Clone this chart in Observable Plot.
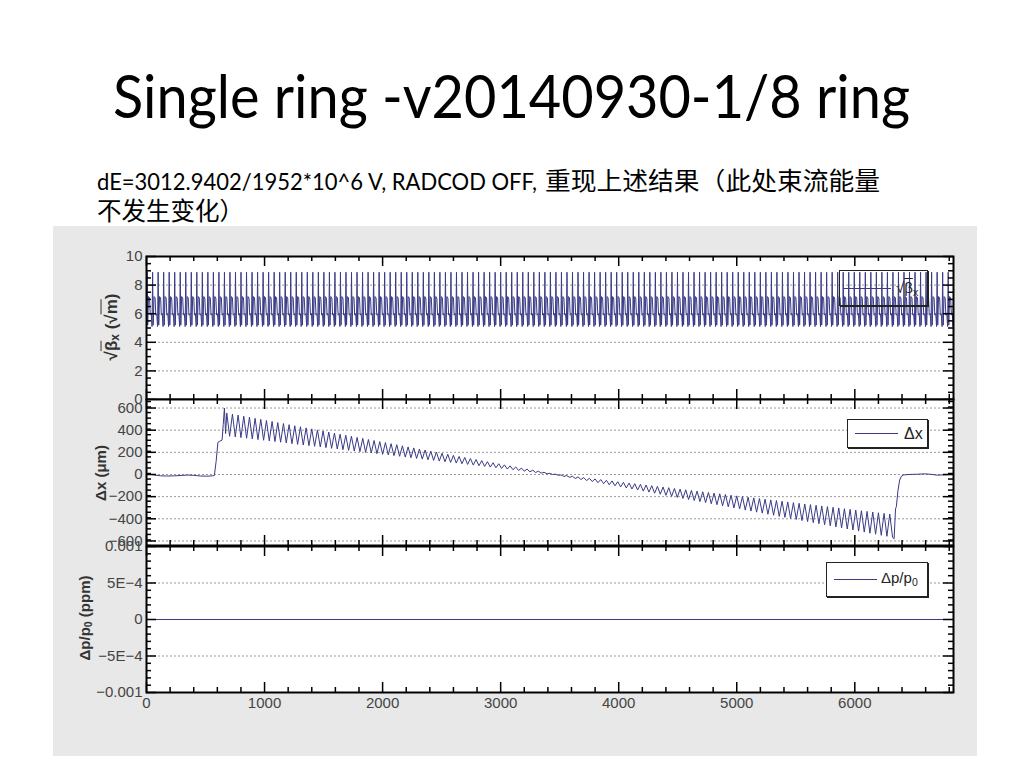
<!DOCTYPE html>
<html><head><meta charset="utf-8">
<script src="https://cdn.jsdelivr.net/npm/d3@7"></script>
<script src="https://cdn.jsdelivr.net/npm/@observablehq/plot@0.6"></script>
<style>
html,body{margin:0;padding:0;background:#fff;}
#page{position:relative;width:1024px;height:768px;overflow:hidden;background:#fff;}
#panelbg{position:absolute;left:53px;top:226px;width:924px;height:530px;background:#e8e8e8;}
.ylab{position:absolute;font-family:"Liberation Sans",Arial,sans-serif;font-size:15px;font-weight:bold;color:#333;white-space:nowrap;transform:translate(-50%,-50%) rotate(-90deg);}
.legend{position:absolute;border:1.5px solid #222;box-shadow:1px 1px 0 #222;box-sizing:border-box;font-family:"Liberation Sans",Arial,sans-serif;font-size:15px;color:#222;}
.legend .ln{position:absolute;height:0;border-top:1px solid #3a3a86;}
.legend .tx{position:absolute;white-space:nowrap;line-height:1;}
.ov{text-decoration:overline;}
sub{font-size:70%;vertical-align:-0.25em;}
</style></head>
<body><div id="page">
<svg style="position:absolute;left:0;top:0" width="1024" height="230">
  <text x="113" y="118" font-family="Lato, 'Open Sans', sans-serif" font-size="60" fill="#000" textLength="797" lengthAdjust="spacingAndGlyphs">Single ring -v20140930-1/8 ring</text>
  <text x="97" y="190" font-family="Lato, sans-serif" font-size="23" fill="#000" textLength="440" lengthAdjust="spacingAndGlyphs">dE=3012.9402/1952*10^6 V, RADCOD OFF,</text>
  <text x="545" y="190" font-family="'Noto Sans CJK SC', sans-serif" font-size="24.5" fill="#000" textLength="335" lengthAdjust="spacingAndGlyphs">重现上述结果（此处束流能量</text>
  <text x="97" y="220" font-family="'Noto Sans CJK SC', sans-serif" font-size="24.5" fill="#000">不发生变化）</text>
</svg>
<div id="panelbg"></div>
<div id="charts"></div>
<div class="ylab" style="left:112px;top:327px;font-size:17px">√<span class="ov">β</span><sub>x</sub> (√<span class="ov">m</span>)</div>
<div class="ylab" style="left:100px;top:473px">Δx (μm)</div>
<div class="ylab" style="left:85px;top:618px">Δp/p<sub>0</sub> (ppm)</div>
<div class="legend" style="left:839px;top:270px;width:89px;height:36px;background:transparent">
  <div class="ln" style="left:3px;top:17px;width:48px"></div>
  <div class="tx" style="left:56px;top:9px">√<span class="ov">β</span><sub>x</sub></div>
</div>
<div class="legend" style="left:847px;top:419px;width:81px;height:29px;background:#fff">
  <div class="ln" style="left:7px;top:13px;width:43px"></div>
  <div class="tx" style="left:56px;top:6px;font-size:16px">Δx</div>
</div>
<div class="legend" style="left:826px;top:562px;width:102px;height:35px;background:#fff">
  <div class="ln" style="left:7px;top:16px;width:43px"></div>
  <div class="tx" style="left:54px;top:7px">Δp/p<sub>0</sub></div>
</div>
</div>
<script>
// ---------- data ----------
const xDomain = [0, 6836];
const xMajor = [0, 1000, 2000, 3000, 4000, 5000, 6000];
const xMajorLabels = ["0", "1000", "2000", "3000", "4000", "5000", "6000"];

// sqrt(beta_x): periodic lattice cell (s offset within a cell, value)
const betaCellLength = 46.8;
const betaCellCount = 147;
const betaCellOffset = [0, 5, 10, 17, 26, 32, 40];
const betaCellValue = [5.1, 8.9, 5.2, 7.2, 7.1, 5.9, 6.0];
const betaTicks = [0, 2, 4, 6, 8, 10];
const betaTickLabels = ["0", "2", "4", "6", "8", "10"];

// Delta x (um)
const dxPreS = [0, 30, 70, 120, 180, 240, 300, 350, 400, 460, 520, 560, 575, 590, 605, 620, 640, 650, 660, 670];
const dxPreV = [0, 2, -5, -12, -14, -12, -8, -5, -8, -14, -15, -12, -8, 120, 290, 300, 310, 450, 600, 370];
const dxCellStart = 680;
const dxCellLength = 48;
const dxPeak = [555,545,536,526,517,507,498,488,479,469,
460,450,440,431,421,412,402,393,383,374,
364,354,345,335,326,316,307,297,288,278,
269,259,249,240,230,221,211,202,192,183,
173,163,154,144,135,125,116,106,97,87,
78,68,58,49,39,30,20,11,3,-4,
-10,-16,-22,-28,-34,-40,-46,-52,-58,-65,
-71,-77,-83,-89,-95,-101,-107,-113,-119,-126,
-132,-138,-144,-150,-156,-162,-168,-174,-180,-187,
-193,-199,-205,-211,-217,-223,-229,-235,-241,-248,
-254,-260,-266,-272,-278,-284,-290,-296,-302,-309,
-315,-321,-327,-333,-339,-345,-351,-357];
const dxTrough = [345,339,333,327,321,315,309,303,297,291,
285,278,272,266,260,254,248,242,236,230,
224,218,212,206,200,194,188,182,176,170,
164,157,151,145,139,133,127,121,115,109,
103,97,91,85,79,73,67,61,55,49,
43,36,30,24,18,12,6,0,-7,-17,
-26,-36,-45,-55,-64,-74,-83,-93,-102,-112,
-121,-131,-140,-150,-159,-169,-178,-188,-197,-207,
-216,-226,-235,-245,-254,-264,-273,-283,-292,-302,
-311,-321,-330,-340,-349,-359,-368,-378,-387,-397,
-406,-416,-425,-435,-444,-454,-463,-473,-482,-492,
-501,-511,-520,-530,-539,-549,-558,-568];
const dxPostS = [6333, 6345, 6352, 6365, 6380, 6395, 6410, 6450, 6520, 6590, 6640, 6700, 6760, 6836];
const dxPostV = [-580, -310, -290, -150, -50, -15, -5, 0, 2, 6, 2, -6, -3, 0];
const dxTicks = [-600, -400, -200, 0, 200, 400, 600];
const dxTickLabels = ["\u2212600", "\u2212400", "\u2212200", "0", "200", "400", "600"];

// Delta p / p0
const dpS = [0, 6836];
const dpV = [0, 0];
const dpTicks = [-0.001, -0.0005, 0, 0.0005, 0.001];
const dpTickLabels = ["\u22120.001", "\u22125E\u22124", "0", "5E\u22124", "0.001"];

// ---------- build tables ----------
const betaData = [];
for (let c = 0; c < betaCellCount; c++) {
  betaCellOffset.forEach((o, k) => betaData.push({s: c * betaCellLength + o, v: betaCellValue[k]}));
}
const dxData = [];
dxPreS.forEach((s, i) => dxData.push({s, v: dxPreV[i]}));
dxPeak.forEach((p, i) => {
  dxData.push({s: dxCellStart + i * dxCellLength, v: p});
  dxData.push({s: dxCellStart + i * dxCellLength + dxCellLength / 2, v: dxTrough[i]});
});
dxPostS.forEach((s, i) => dxData.push({s, v: dxPostV[i]}));
const dpData = dpS.map((s, i) => ({s, v: dpV[i]}));

const xMinor = d3.range(0, 6837, 200).filter(d => d % 1000 !== 0);
const lineColor = "#3a3a86";
const plotW = 807, mL = 70, mR = 10;

function panel({top, h, yDomain, yTicks, yLabels, yMinorStep, data, xAxis}) {
  const mT = 10, mB = xAxis ? 30 : 10;
  const yMinor = d3.range(yDomain[0], yDomain[1] + 1e-12, yMinorStep)
    .map(d => +d.toPrecision(6))
    .filter(d => !yTicks.some(t => Math.abs(t - d) < yMinorStep / 10));
  const id = d => d;
  const tk = {stroke: "#000", strokeWidth: 1.5};
  const marks = [
    Plot.frame({fill: "#fff", stroke: null}),
    Plot.gridY(yTicks, {stroke: "#999", strokeOpacity: 1, strokeDasharray: "2,2"}),
    Plot.line(data, {x: "s", y: "v", stroke: lineColor, strokeWidth: 1, clip: true}),
    Plot.tickX(xMajor, {x: id, ...tk, insetBottom: h - 10}),
    Plot.tickX(xMajor, {x: id, ...tk, insetTop: h - 10}),
    Plot.tickX(xMinor, {x: id, ...tk, insetBottom: h - 5}),
    Plot.tickX(xMinor, {x: id, ...tk, insetTop: h - 5}),
    Plot.tickY(yTicks, {y: id, ...tk, insetRight: plotW - 10}),
    Plot.tickY(yTicks, {y: id, ...tk, insetLeft: plotW - 10}),
    Plot.tickY(yMinor, {y: id, ...tk, insetRight: plotW - 5}),
    Plot.tickY(yMinor, {y: id, ...tk, insetLeft: plotW - 5}),
    Plot.frame({stroke: "#000", strokeWidth: 2}),
    Plot.axisY(yTicks, {anchor: "left", label: null, tickSize: 0, tickPadding: 4, tickFormat: d => yLabels[yTicks.indexOf(d)]})
  ];
  if (xAxis) marks.push(Plot.axisX(xMajor, {anchor: "bottom", label: null, tickSize: 0, tickPadding: 5, tickFormat: d => xMajorLabels[xMajor.indexOf(d)]}));
  const svg = Plot.plot({
    width: plotW + mL + mR, height: h + mT + mB,
    marginLeft: mL, marginRight: mR, marginTop: mT, marginBottom: mB,
    x: {domain: xDomain, axis: null, label: null},
    y: {domain: yDomain, axis: null, label: null},
    style: {fontFamily: "'Liberation Sans', Arial, sans-serif", fontSize: "15px", color: "#444", background: "transparent", overflow: "visible"},
    marks
  });
  svg.style.position = "absolute";
  svg.style.left = (146 - mL) + "px";
  svg.style.top = (top - mT) + "px";
  svg.style.maxWidth = "none";
  document.getElementById("charts").appendChild(svg);
}

panel({top: 256, h: 143, yDomain: [0, 10], yTicks: betaTicks, yLabels: betaTickLabels, yMinorStep: 0.5, data: betaData});
panel({top: 399, h: 146, yDomain: [-641, 677], yTicks: dxTicks, yLabels: dxTickLabels, yMinorStep: 50, data: dxData});
panel({top: 546, h: 146, yDomain: [-0.001, 0.001], yTicks: dpTicks, yLabels: dpTickLabels, yMinorStep: 0.0001, data: dpData, xAxis: true});
</script>
</body></html>
